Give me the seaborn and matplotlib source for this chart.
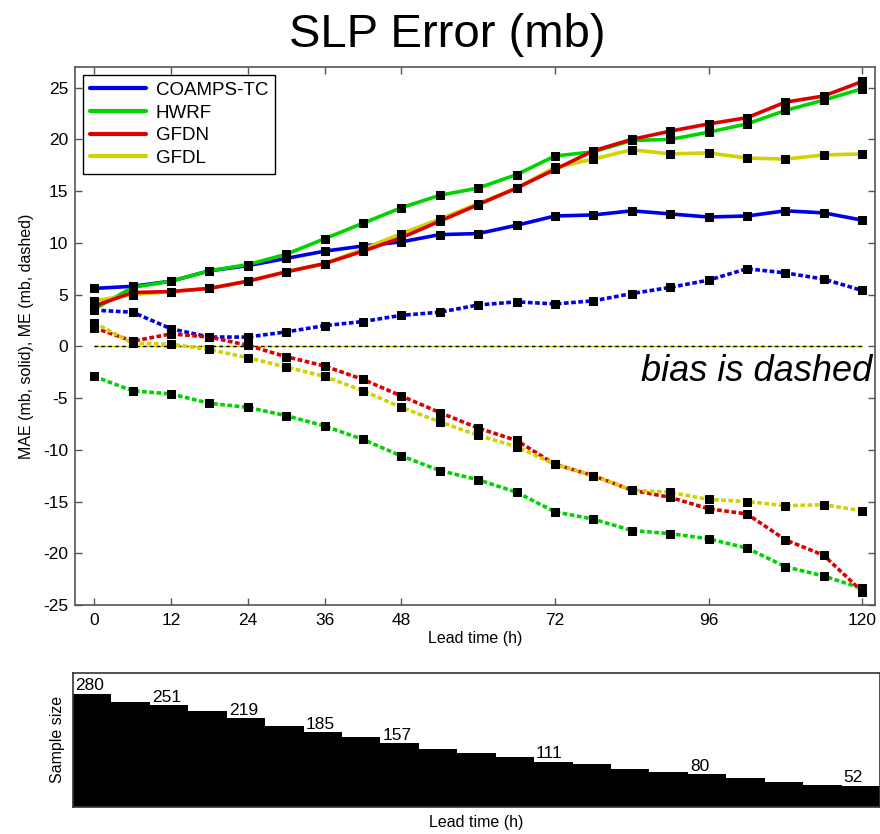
import numpy as np
import pandas as pd
import matplotlib
matplotlib.use("Agg")
import matplotlib.pyplot as plt
from matplotlib.lines import Line2D
import seaborn as sns

lead_times = [0, 6, 12, 18, 24, 30, 36, 42, 48, 54, 60, 66, 72, 78, 84, 90, 96, 102, 108, 114, 120]
models = ["COAMPS-TC", "HWRF", "GFDN", "GFDL"]
colors = {"COAMPS-TC": "#0000e6", "HWRF": "#00d400", "GFDN": "#dd0000", "GFDL": "#d2d200"}

mae_coamps = [5.6, 5.8, 6.3, 7.3, 7.8, 8.5, 9.2, 9.7, 10.1, 10.8, 10.9, 11.7, 12.6, 12.7, 13.1, 12.8, 12.5, 12.6, 13.1, 12.9, 12.2]
mae_hwrf = [3.6, 5.7, 6.3, 7.3, 7.9, 8.9, 10.4, 11.9, 13.4, 14.6, 15.3, 16.6, 18.4, 18.8, 19.9, 20.0, 20.7, 21.5, 22.8, 23.8, 24.9]
mae_gfdn = [3.9, 5.2, 5.3, 5.6, 6.3, 7.2, 8.0, 9.2, 10.5, 12.1, 13.7, 15.3, 17.1, 18.9, 20.0, 20.8, 21.5, 22.1, 23.6, 24.2, 25.6]
mae_gfdl = [4.4, 5.0, 5.3, 5.6, 6.3, 7.2, 8.0, 9.4, 10.9, 12.3, 13.8, 15.3, 17.3, 18.1, 19.0, 18.6, 18.7, 18.2, 18.1, 18.5, 18.6]

me_coamps = [3.5, 3.3, 1.7, 0.9, 0.9, 1.4, 2.0, 2.4, 3.0, 3.3, 4.0, 4.3, 4.1, 4.4, 5.1, 5.7, 6.4, 7.5, 7.1, 6.5, 5.4]
me_hwrf = [-2.9, -4.3, -4.6, -5.5, -5.9, -6.7, -7.7, -9.0, -10.6, -12.0, -12.9, -14.1, -16.0, -16.7, -17.8, -18.1, -18.6, -19.5, -21.3, -22.2, -23.4]
me_gfdn = [1.8, 0.5, 1.2, 0.9, 0.1, -1.0, -1.9, -3.2, -4.8, -6.4, -7.9, -9.1, -11.4, -12.5, -13.9, -14.6, -15.7, -16.2, -18.7, -20.2, -23.7]
me_gfdl = [2.3, 0.3, 0.2, -0.3, -1.1, -2.0, -2.9, -4.3, -5.9, -7.3, -8.6, -9.7, -11.4, -12.5, -13.9, -14.1, -14.8, -15.0, -15.4, -15.3, -15.9]

sample_size = [280, 259, 251, 236, 219, 201, 185, 172, 157, 143, 133, 122, 111, 105, 93, 86, 80, 72, 60, 55, 52]
labelled_times = [0, 12, 24, 36, 48, 72, 96, 120]

x_ticks = [0, 12, 24, 36, 48, 72, 96, 120]
y_ticks = [-25, -20, -15, -10, -5, 0, 5, 10, 15, 20, 25]

sns.set_theme(style="white")
plt.rcParams["font.family"] = ["Liberation Sans", "DejaVu Sans"]
plt.rcParams["axes.unicode_minus"] = False
plt.rcParams["text.color"] = "black"
plt.rcParams["axes.labelcolor"] = "black"

mae = {"COAMPS-TC": mae_coamps, "HWRF": mae_hwrf, "GFDN": mae_gfdn, "GFDL": mae_gfdl}
me = {"COAMPS-TC": me_coamps, "HWRF": me_hwrf, "GFDN": me_gfdn, "GFDL": me_gfdl}

fig = plt.figure(figsize=(8.8, 8.34), dpi=100)
ax = fig.add_axes([75 / 880, 1 - 605 / 834, 800 / 880, (605 - 67) / 834])
axb = fig.add_axes([73 / 880, 1 - 806.7 / 834, 807 / 880, (806.7 - 672.7) / 834])

# zero line
ax.plot([0, 120], [0, 0], color="#c8c800", lw=1.0, zorder=1)
ax.plot([0, 120], [0, 0], color="black", lw=1.0, ls=(0, (2.5, 2.5)), zorder=1.5)

dash = (0, (1.3, 0.7))
for m in models:
    df_d = pd.DataFrame({"lead": lead_times, "val": me[m]})
    sns.lineplot(data=df_d, x="lead", y="val", ax=ax, color=colors[m], lw=2.6,
                 linestyle=dash, marker="s", markersize=5.5, markerfacecolor="black",
                 markeredgecolor="black", zorder=2)
for m in ["COAMPS-TC", "HWRF", "GFDL", "GFDN"]:
    df_s = pd.DataFrame({"lead": lead_times, "val": mae[m]})
    sns.lineplot(data=df_s, x="lead", y="val", ax=ax, color=colors[m], lw=2.6,
                 marker="s", markersize=5.5, markerfacecolor="black",
                 markeredgecolor="black", zorder=3)

ax.set_xlim(-3, 122)
ax.set_ylim(-25, 27)
ax.set_xticks(x_ticks)
ax.set_yticks(y_ticks)
ax.tick_params(axis="both", which="both", direction="in", length=5, width=1,
               colors="#555555", labelcolor="black", labelsize=12.5,
               top=True, right=True, bottom=True, left=True)
ax.tick_params(axis="x", pad=6)
ax.tick_params(axis="y", pad=5)
for s in ax.spines.values():
    s.set_color("#555555")
    s.set_linewidth(1.2)
ax.set_xlabel("Lead time (h)", fontsize=11.5, labelpad=2)
ax.set_ylabel("MAE (mb, solid), ME (mb, dashed)", fontsize=11.5, labelpad=6)

handles = [Line2D([0], [0], color=colors[m], lw=3) for m in models]
leg = ax.legend(handles, models, loc="upper left", bbox_to_anchor=(0.0105, 0.985),
                fontsize=13.5, frameon=True, fancybox=False, handlelength=3.0,
                handletextpad=0.5, borderpad=0.35, labelspacing=0.3, borderaxespad=0)
leg.get_frame().set_edgecolor("black")
leg.get_frame().set_linewidth(1.0)
leg.get_frame().set_alpha(1)

ax.text(121.6, -2.4, "bias is dashed", fontsize=26, style="italic", ha="right", va="center")

fig.text(447 / 880, 1 - 35 / 834, "SLP Error (mb)", fontsize=34, ha="center", va="center")

# sample size panel
df_n = pd.DataFrame({"lead": lead_times, "n": sample_size})
sns.barplot(data=df_n, x="lead", y="n", ax=axb, native_scale=True, width=1.0,
            color="black", edgecolor="black", linewidth=0, saturation=1, errorbar=None)
axb.set_xlim(-3, 123)
axb.set_ylim(0, 332)
axb.set_xticks([])
axb.set_yticks([])
for s in axb.spines.values():
    s.set_color("#333333")
    s.set_linewidth(1.2)
axb.set_ylabel("Sample size", fontsize=11.5, labelpad=6)
axb.set_xlabel("Lead time (h)", fontsize=11.5, labelpad=6)
for t, n in zip(lead_times, sample_size):
    if t in labelled_times:
        axb.text(t - 2.7, n + 1, str(n), fontsize=12.5, ha="left", va="bottom")

fig.savefig("out.png", dpi=100)
